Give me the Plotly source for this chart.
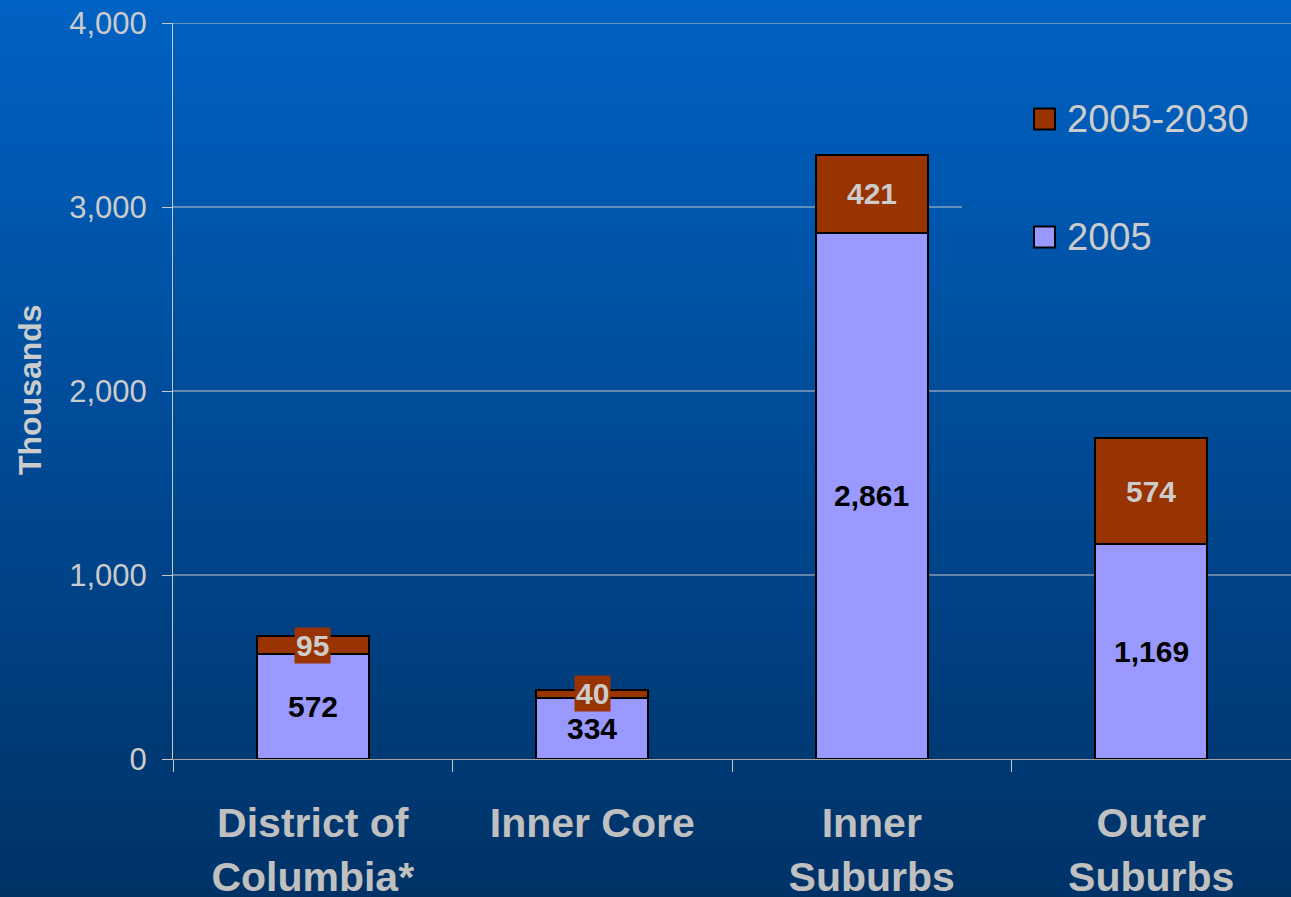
import plotly.graph_objects as go

# data (thousands)
regions = ["District of<br>Columbia*", "Inner Core", "Inner<br>Suburbs", "Outer<br>Suburbs"]
base_2005 = [572, 334, 2861, 1169]
growth_2005_2030 = [95, 40, 421, 574]
y_ticks = [0, 1000, 2000, 3000, 4000]
legend_names = ["2005-2030", "2005"]

W, H = 1291, 897
M_L, M_R, M_T, M_B = 173, 0, 23, 138
plot_w = W - M_L - M_R
plot_h = H - M_T - M_B

FONT = "Arial, Liberation Sans, sans-serif"
LIGHT = "#CCCCCC"
C_2005 = "#9999FF"
C_GROW = "#993300"


def px_x(p):
    return (p - M_L) / plot_w


def px_y(p):
    return (M_T + plot_h - p) / plot_h


fig = go.Figure()

fig.add_trace(go.Bar(x=regions, y=base_2005, name="2005", width=0.4,
                     marker=dict(color=C_2005, line=dict(color="black", width=2))))
fig.add_trace(go.Bar(x=regions, y=growth_2005_2030, name="2005-2030", width=0.4,
                     marker=dict(color=C_GROW, line=dict(color="black", width=2))))

# value labels
for r, b, g in zip(regions, base_2005, growth_2005_2030):
    fig.add_annotation(x=r, y=b / 2, text=f"<b>{b:,}</b>", showarrow=False,
                       font=dict(family=FONT, size=30, color="black"))
    fig.add_annotation(x=r, y=b + g / 2, text=f"<b>{g:,}</b>", showarrow=False,
                       bgcolor=C_GROW, borderpad=1,
                       font=dict(family=FONT, size=30, color=LIGHT))

fig.add_annotation(xref="paper", yref="paper", x=px_x(30), y=px_y(390),
                   xanchor="center", yanchor="middle",
                   text="<b>Thousands</b>", textangle=-90, showarrow=False,
                   font=dict(family=FONT, size=32, color=LIGHT))

# background gradient, top to bottom
shapes = []
top, bot = (0, 98, 196), (0, 50, 102)
n = 90
for i in range(n):
    t = (i + 0.5) / n
    col = tuple(round(top[k] + (bot[k] - top[k]) * t) for k in range(3))
    shapes.append(dict(type="rect", xref="paper", yref="paper", layer="below",
                       x0=px_x(-5), x1=px_x(W + 5),
                       y0=px_y(H * (i + 1) / n + 1), y1=px_y(H * i / n),
                       fillcolor=f"rgb{col}", line_width=0))

# gridlines (the 3000 one stops at the legend)
for v in y_ticks[1:]:
    x1 = px_x(962) if v == 3000 else 1
    shapes.append(dict(type="line", xref="paper", yref="y", layer="between",
                       x0=0, x1=x1, y0=v, y1=v, line=dict(color="#C8C8C8", width=1)))

# legend drawn by hand so the swatches can be larger
for name, color, cy in zip(legend_names, [C_GROW, C_2005], [119, 237]):
    shapes.append(dict(type="rect", xref="paper", yref="paper", layer="above",
                       x0=px_x(1034), x1=px_x(1055), y0=px_y(cy + 10.5), y1=px_y(cy - 10.5),
                       fillcolor=color, line=dict(color="black", width=2)))
    fig.add_annotation(xref="paper", yref="paper", x=px_x(1065), y=px_y(cy),
                       xanchor="left", yanchor="middle", showarrow=False, text=name,
                       font=dict(family=FONT, size=38, color=LIGHT))

fig.update_layout(
    width=W, height=H,
    margin=dict(l=M_L, r=M_R, t=M_T, b=M_B),
    barmode="stack",
    showlegend=False,
    paper_bgcolor="rgb(0,50,102)",
    plot_bgcolor="rgba(0,0,0,0)",
    shapes=shapes,
    font=dict(family=FONT, color=LIGHT),
    xaxis=dict(showline=True, linecolor="#A0A0A0", linewidth=1,
               ticks="outside", tickson="boundaries", ticklen=12, tickcolor="#C8C8C8",
               tickfont=dict(family=FONT, size=41, color="#C0C0C0"),
               ticklabelstandoff=28, showgrid=False, range=[-0.5, 3.5],
               automargin=False),
    yaxis=dict(range=[0, 4000], tickvals=y_ticks, tickformat=",",
               showline=True, linecolor="#C8C8C8", linewidth=1,
               ticks="outside", ticklen=10, tickcolor="#C8C8C8",
               tickfont=dict(family=FONT, size=31, color=LIGHT),
               ticklabelstandoff=9, showgrid=False, zeroline=False,
               automargin=False),
)

# bold category labels
fig.update_xaxes(ticktext=[f"<b>{r}</b>" for r in regions], tickvals=regions)

fig.write_html("out.html", config={"displayModeBar": False},
               post_script="document.body.style.margin='0';")
